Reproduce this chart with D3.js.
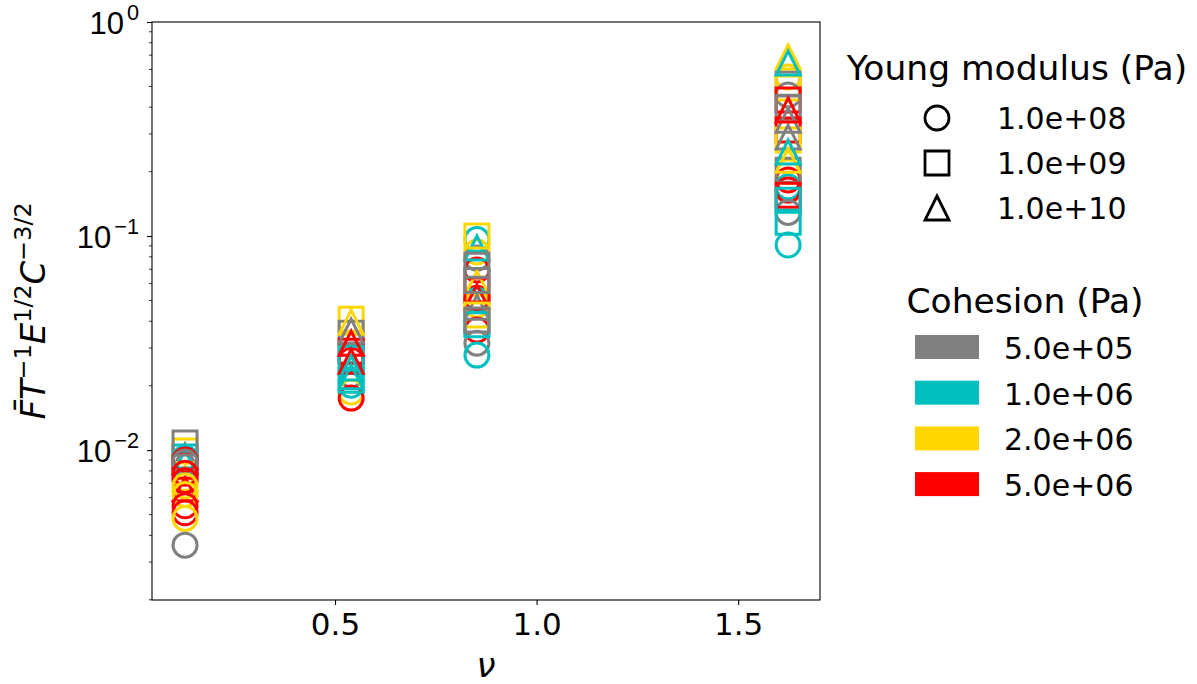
<!DOCTYPE html>
<html>
<head>
<meta charset="utf-8">
<script src="https://cdn.jsdelivr.net/npm/d3@7"></script>
<style>
  body { margin: 0; background: #fff; }
  svg { font-family: "DejaVu Sans", sans-serif; }
</style>
</head>
<body>
<svg id="chart" width="1197" height="684"></svg>
<script>
// ν position of each group of runs
const nuValues = [0.128, 0.54, 0.852, 1.624];

// Young modulus legend (marker shape) and cohesion legend (colour)
const youngLabels = ["1.0e+08", "1.0e+09", "1.0e+10"];
const youngShapes = ["circle", "square", "triangle"];
const cohesionLabels = ["5.0e+05", "1.0e+06", "2.0e+06", "5.0e+06"];
const cohesionColors = ["#808080", "#00bfbf", "#ffd700", "#ff0000"];

const xTicks = [0.5, 1.0, 1.5];
const yTickExponents = [-2, -1, 0];

// Runs per ν group: [young index, cohesion index, normalised force]
const runsNu0 = [
  [2, 1, 0.0088], [2, 2, 0.0074], [2, 0, 0.0094], [2, 3, 0.0066],
  [1, 2, 0.0099], [1, 1, 0.0093], [1, 3, 0.0084], [1, 0, 0.0108],
  [0, 1, 0.0092], [0, 3, 0.0090], [0, 0, 0.0088], [0, 3, 0.0078],
  [0, 3, 0.0072], [0, 2, 0.0068], [0, 2, 0.0062], [0, 3, 0.0055],
  [0, 3, 0.0051], [0, 2, 0.0048], [0, 0, 0.0036]
];
const runsNu1 = [
  [0, 0, 0.0225], [0, 1, 0.0201], [0, 2, 0.0187], [0, 3, 0.0263], [0, 3, 0.0175],
  [1, 2, 0.0409], [1, 0, 0.0352], [1, 3, 0.0290], [1, 1, 0.0269], [1, 1, 0.0212],
  [2, 2, 0.0396], [2, 0, 0.0360], [2, 3, 0.0316], [2, 3, 0.0260],
  [2, 1, 0.0242], [2, 1, 0.0220]
];
const runsNu2 = [
  [0, 1, 0.0963], [0, 2, 0.0842], [0, 0, 0.0789], [0, 3, 0.0694], [0, 3, 0.0513],
  [0, 1, 0.0502], [0, 2, 0.0477], [0, 3, 0.0364], [0, 0, 0.0316], [0, 1, 0.0278],
  [2, 1, 0.0880], [2, 2, 0.0603], [2, 3, 0.0520], [2, 0, 0.0465],
  [1, 2, 0.1000], [1, 3, 0.0560], [1, 2, 0.0428], [1, 1, 0.0385],
  [1, 0, 0.0731], [1, 0, 0.0620], [1, 0, 0.0405]
];
const runsNu3 = [
  [0, 2, 0.553], [0, 0, 0.456], [0, 2, 0.200], [0, 3, 0.183], [0, 1, 0.170],
  [0, 3, 0.164], [0, 0, 0.129], [0, 1, 0.0908],
  [1, 0, 0.513], [1, 2, 0.492], [1, 3, 0.432], [1, 0, 0.400], [1, 3, 0.313],
  [1, 2, 0.281], [1, 0, 0.203], [1, 3, 0.155], [1, 1, 0.147], [1, 1, 0.116],
  [2, 0, 0.290], [2, 2, 0.226], [2, 1, 0.247], [2, 0, 0.348],
  [2, 3, 0.388], [2, 2, 0.686], [2, 1, 0.643]
];
const runsByNu = [runsNu0, runsNu1, runsNu2, runsNu3];

const svg = d3.select("#chart");
const plot = { left: 152, right: 820, top: 22, bottom: 600 };

const x = d3.scaleLinear().domain([0.046, 1.703]).range([plot.left, plot.right]);
const y = d3.scaleLog().domain([Math.pow(10, -2.7), 1]).range([plot.bottom, plot.top]);

const TICK_FONT = 31;
const LEGEND_FONT = 30;
const TITLE_FONT = 34.5;
const LABEL_FONT = 34;
const MARK = 24;   // marker size in px
const STROKE = 3;

// matplotlib-like marker outlines centred on (0,0)
function markerPath(shape, s) {
  const h = s / 2;
  if (shape === "circle") {
    return `M${h},0A${h},${h} 0 1,1 ${-h},0A${h},${h} 0 1,1 ${h},0Z`;
  }
  if (shape === "square") {
    return `M${-h},${-h}H${h}V${h}H${-h}Z`;
  }
  return `M0,${-h}L${h},${h}L${-h},${h}Z`;
}

// Data markers
const markers = svg.append("g");
runsByNu.forEach((runs, i) => {
  markers.selectAll(null)
    .data(runs)
    .join("path")
    .attr("transform", d => `translate(${x(nuValues[i])},${y(d[2])})`)
    .attr("d", d => markerPath(youngShapes[d[0]], MARK))
    .attr("fill", "none")
    .attr("stroke", d => cohesionColors[d[1]])
    .attr("stroke-width", STROKE);
});

// Frame
svg.append("rect")
  .attr("x", plot.left).attr("y", plot.top)
  .attr("width", plot.right - plot.left).attr("height", plot.bottom - plot.top)
  .attr("fill", "none").attr("stroke", "#000").attr("stroke-width", 1.1);

// X axis
const xAxis = svg.append("g")
  .attr("transform", `translate(0,${plot.bottom})`)
  .call(d3.axisBottom(x).tickValues(xTicks).tickFormat(d3.format(".1f"))
    .tickSize(5).tickPadding(8));
xAxis.select(".domain").remove();
xAxis.selectAll("line").attr("stroke-width", 1.1);
xAxis.selectAll("text").attr("font-size", TICK_FONT).attr("font-family", "DejaVu Sans").attr("fill", "#000");

// Y axis: major ticks with power-of-ten labels, plus minor ticks
const majorVals = yTickExponents.map(e => Math.pow(10, e));
const minorVals = [];
[-3, -2, -1].forEach(e => {
  for (let k = 2; k <= 9; k++) {
    const v = k * Math.pow(10, e);
    if (v >= y.domain()[0] * 0.999 && v <= 1) minorVals.push(v);
  }
});
const yAxis = svg.append("g").attr("transform", `translate(${plot.left},0)`);
yAxis.call(d3.axisLeft(y).tickValues(majorVals).tickFormat("").tickSize(5));
yAxis.select(".domain").remove();
yAxis.selectAll("line").attr("stroke-width", 1.1);
yAxis.selectAll(null)
  .data(minorVals)
  .join("line")
  .attr("x1", -3).attr("x2", 0)
  .attr("y1", d => y(d)).attr("y2", d => y(d))
  .attr("stroke", "#000").attr("stroke-width", 0.8);

const yLabels = yAxis.selectAll(null)
  .data(yTickExponents)
  .join("text")
  .attr("x", -13)
  .attr("y", d => y(Math.pow(10, d)) + 12)
  .attr("text-anchor", "end")
  .attr("font-size", TICK_FONT)
  .attr("fill", "#000");
yLabels.append("tspan").text("10");
yLabels.append("tspan")
  .attr("font-size", TICK_FONT * 0.7)
  .attr("dx", 3)
  .attr("dy", -14)
  .text(d => d === 0 ? "0" : "\u2212" + Math.abs(d));

// Axis titles
svg.append("text")
  .attr("x", (plot.left + plot.right) / 2)
  .attr("y", 677)
  .attr("text-anchor", "middle")
  .attr("font-size", LABEL_FONT)
  .attr("font-style", "italic")
  .text("\u03bd");

const yTitle = svg.append("text")
  .attr("transform", `translate(45,${(plot.top + plot.bottom) / 2}) rotate(-90)`)
  .attr("text-anchor", "middle")
  .attr("font-size", LABEL_FONT);
const yParts = [
  ["F\u0304", false], ["T", false], ["\u22121", true],
  ["E", false], ["1/2", true], ["C", false], ["\u22123/2", true]
];
let raised = false;
yParts.forEach(([t, sup]) => {
  const sp = yTitle.append("tspan").text(t);
  if (sup) {
    sp.attr("font-size", LABEL_FONT * 0.7).attr("dy", raised ? 0 : -14);
    raised = true;
  } else {
    sp.attr("font-style", "italic").attr("dy", raised ? 14 : 0);
    raised = false;
  }
});

// Legend: Young modulus (marker shapes)
const leg1 = svg.append("g");
leg1.append("text")
  .attr("x", 1017).attr("y", 80)
  .attr("text-anchor", "middle").attr("font-size", TITLE_FONT)
  .text("Young modulus (Pa)");
const leg1Rows = leg1.selectAll(null).data(youngLabels).join("g")
  .attr("transform", (d, i) => `translate(0,${118 + i * 45})`);
leg1Rows.append("path")
  .attr("transform", "translate(937,0)")
  .attr("d", (d, i) => markerPath(youngShapes[i], 24))
  .attr("fill", "none").attr("stroke", "#000").attr("stroke-width", 2.8);
leg1Rows.append("text")
  .attr("x", 997).attr("y", 11)
  .attr("font-size", LEGEND_FONT)
  .text(d => d);

// Legend: cohesion (colour patches)
const leg2 = svg.append("g");
leg2.append("text")
  .attr("x", 1025).attr("y", 313)
  .attr("text-anchor", "middle").attr("font-size", TITLE_FONT)
  .text("Cohesion (Pa)");
const leg2Rows = leg2.selectAll(null).data(cohesionLabels).join("g")
  .attr("transform", (d, i) => `translate(0,${347 + i * 45.7})`);
leg2Rows.append("rect")
  .attr("x", 915).attr("y", -12)
  .attr("width", 64).attr("height", 24)
  .attr("fill", (d, i) => cohesionColors[i]);
leg2Rows.append("text")
  .attr("x", 1004).attr("y", 12)
  .attr("font-size", LEGEND_FONT)
  .text(d => d);
</script>
</body>
</html>
